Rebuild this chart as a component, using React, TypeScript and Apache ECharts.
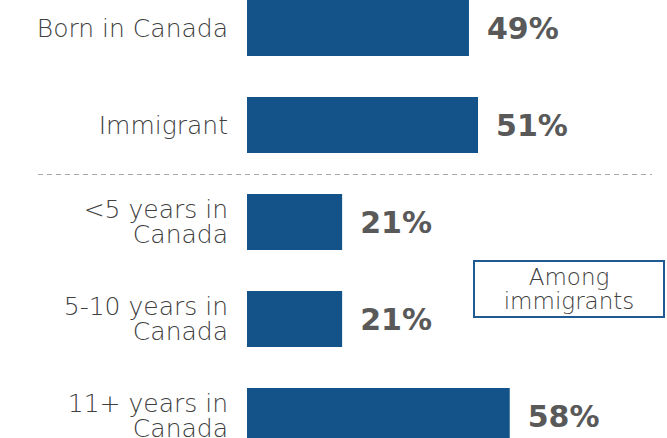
import React, { useEffect, useRef } from "react";
import * as echarts from "echarts";

const categories = [
  "Born in Canada",
  "Immigrant",
  "<5 years in\nCanada",
  "5-10 years in\nCanada",
  "11+ years in\nCanada",
];
const values = [49, 51, 21, 21, 58];
const boxLines = ["Among", "immigrants"];

export default function App() {
  const ref = useRef<HTMLDivElement>(null);
  useEffect(() => {
    if (!ref.current) return;
    const chart = echarts.init(ref.current, undefined, { renderer: "svg" });
    chart.setOption({
      animation: false,
      backgroundColor: "#ffffff",
      grid: {
        left: 247,
        top: -20.5,
        width: 453,
        height: 485,
        outerBoundsMode: "none",
        containLabel: false,
      },
      xAxis: {
        type: "value",
        min: 0,
        max: 100,
        show: false,
      },
      yAxis: {
        type: "category",
        data: categories,
        inverse: true,
        axisLine: { show: false },
        axisTick: { show: false },
        splitLine: { show: false },
        axisLabel: {
          margin: 19,
          color: "#404040",
          fontFamily: "'DejaVu Sans', sans-serif",
          fontWeight: 200,
          fontSize: 25,
          lineHeight: 25,
          align: "right",
        },
      },
      series: [
        {
          type: "bar",
          data: values,
          barWidth: 56,
          itemStyle: { color: "#13538a" },
          label: {
            show: true,
            position: "right",
            distance: 18,
            formatter: "{c}%",
            color: "#595959",
            fontFamily: "'DejaVu Sans', sans-serif",
            fontWeight: "bold",
            fontSize: 30,
          },
        },
      ],
      graphic: [
        {
          type: "line",
          shape: { x1: 38, y1: 174.5, x2: 652, y2: 174.5 },
          style: { stroke: "#a6a6a6", lineWidth: 1, lineDash: [5, 4] },
          silent: true,
        },
        {
          type: "rect",
          shape: { x: 474, y: 261, width: 190, height: 56 },
          style: { fill: "#ffffff", stroke: "#1f5a94", lineWidth: 2 },
          silent: true,
        },
        {
          type: "text",
          x: 569,
          y: 289,
          style: {
            text: boxLines.join("\n"),
            fill: "#404040",
            font: "200 23px 'DejaVu Sans', sans-serif",
            lineHeight: 24,
            align: "center",
            verticalAlign: "middle",
          },
          silent: true,
        },
      ],
    });
    return () => chart.dispose();
  }, []);
  return <div ref={ref} style={{ width: 667, height: 438, position: "absolute", left: 0, top: 0 }} />;
}
